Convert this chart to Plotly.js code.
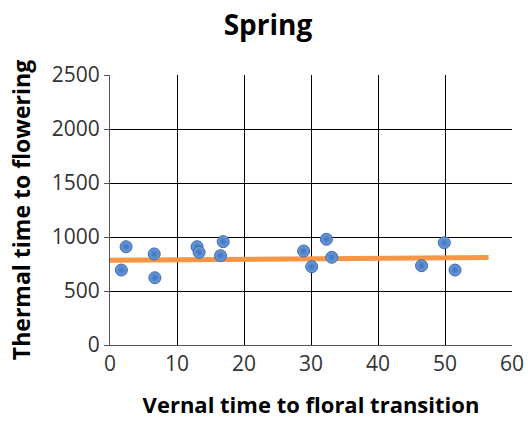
<!DOCTYPE html>
<html><head><meta charset="utf-8">
<script src="https://cdn.plot.ly/plotly-3.0.1.min.js"></script>
<style>html,body{margin:0;padding:0;background:#fff}#c{width:528px;height:425px}</style>
</head><body><div id="c"></div>
<script>
const vernalTime = [2.4, 1.7, 6.6, 6.7, 13.0, 13.3, 16.9, 16.5, 28.9, 32.3, 30.1, 33.1, 46.5, 49.9, 51.5];
const thermalTime = [910, 694, 843, 623, 910, 858, 957, 827, 870, 979, 725, 812, 734, 947, 694];
const trendX = [0, 56.5];
const trendY = [785, 810];
const xTicks = [0, 10, 20, 30, 40, 50, 60];
const yTicks = [0, 500, 1000, 1500, 2000, 2500];

const font = 'Open Sans, Liberation Sans, sans-serif';
Plotly.newPlot('c', [
  {x: trendX, y: trendY, mode: 'lines', line: {color: '#F79646', width: 5}, hoverinfo: 'skip'},
  {x: vernalTime, y: thermalTime, mode: 'markers',
   marker: {size: 12, color: '#6F9EDC', line: {color: '#3A68AC', width: 1},
            gradient: {type: 'radial', color: '#3F72BC'}}}
], {
  width: 528, height: 425,
  margin: {l: 110, r: 16, t: 75, b: 80},
  paper_bgcolor: '#fff', plot_bgcolor: '#fff',
  showlegend: false,
  title: {text: '<b>Spring</b>', x: 268/528, xanchor: 'center', y: 0.94, yanchor: 'middle', font: {family: font, size: 28, color: '#000'}},
  xaxis: {range: [0, 60], tickvals: xTicks, showgrid: true, gridcolor: '#000', gridwidth: 1,
          showline: true, linecolor: '#555', linewidth: 1, mirror: false, zeroline: false,
          ticks: '', tickfont: {family: font, size: 21, color: '#333'},
          title: {text: '<b>Vernal time to floral transition</b>', standoff: 21, font: {family: font, size: 22, color: '#000'}}},
  yaxis: {range: [0, 2500], tickvals: yTicks, showgrid: true, gridcolor: '#000', gridwidth: 1,
          showline: true, linecolor: '#555', linewidth: 1, zeroline: false,
          ticks: 'outside', ticklen: 5, tickcolor: '#555', tickfont: {family: font, size: 21, color: '#333'},
          title: {text: '<b>Thermal time to flowering</b>', standoff: 14, font: {family: font, size: 23, color: '#000'}}}
}, {displayModeBar: false, staticPlot: true});
</script></body></html>
